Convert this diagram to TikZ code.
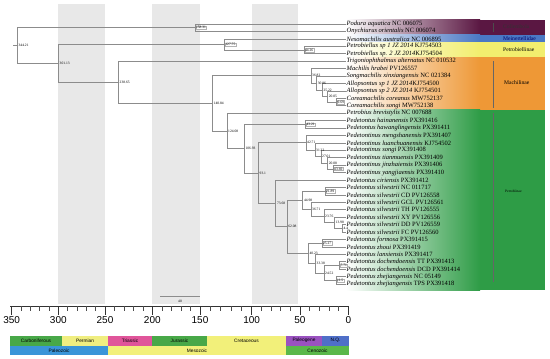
\documentclass[tikz,border=0pt]{standalone}
\usepackage{fontspec}
\setmainfont{Liberation Serif}
\setsansfont{Liberation Sans}
\definecolor{band}{HTML}{E8E8E8}
\definecolor{colC}{HTML}{5A1742}
\definecolor{colM}{HTML}{4A78C4}
\definecolor{colP}{HTML}{F2EE6E}
\definecolor{colMa}{HTML}{EE9836}
\definecolor{colPe}{HTML}{2E9C46}
\definecolor{gCarb}{HTML}{48A848}
\definecolor{gPerm}{HTML}{F0EE80}
\definecolor{gTri}{HTML}{E0559A}
\definecolor{gJur}{HTML}{48A848}
\definecolor{gCre}{HTML}{F2F07A}
\definecolor{gPal}{HTML}{9A52C0}
\definecolor{gNQ}{HTML}{4F6FC8}
\definecolor{gPz}{HTML}{3A95D8}
\definecolor{gMz}{HTML}{F2F07A}
\definecolor{gCz}{HTML}{5AB84A}
\definecolor{brc}{HTML}{8C8C8C}
\begin{document}
\begin{tikzpicture}[x=1pt,y=-1pt,
  br/.style={draw=brc,line width=0.7pt},
  nl/.style={font=\fontsize{3.6}{4}\selectfont,anchor=west,inner sep=0.4pt,xshift=0.6pt},
  nlb/.style={nl,draw=gray!60,line width=0.2pt,fill=white},
  tip/.style={font=\fontsize{6.5}{7}\selectfont,anchor=west,inner sep=0.5pt},
  grp/.style={font=\fontsize{5.6}{6}\selectfont,anchor=west,inner sep=0pt},
  geo/.style={font=\sffamily\fontsize{4.8}{5}\selectfont,inner sep=0pt},
  tl/.style={font=\sffamily\fontsize{10}{11}\selectfont,inner sep=0pt}]
\useasboundingbox (0,0) rectangle (550,359);
% gray bands
\fill[band] (58.3,4) rectangle (105,304);
\fill[band] (152.3,4) rectangle (200,304);
\fill[band] (251.7,4) rectangle (298,304);
% clade boxes
\shade[left color=white,right color=colC] (346,19.5) rectangle (480,34.5);
\fill[colC] (480,19.5) rectangle (545,34.5);
\shade[left color=white,right color=colM] (346,34.5) rectangle (480,42.2);
\fill[colM] (480,34.5) rectangle (545,42.2);
\shade[left color=white,right color=colP] (346,42.2) rectangle (480,57.3);
\fill[colP] (480,42.2) rectangle (545,57.3);
\shade[left color=white,right color=colMa] (346,57.3) rectangle (480,109.8);
\fill[colMa] (480,57.3) rectangle (545,109.8);
\shade[left color=white,right color=colPe] (346,109.8) rectangle (480,290);
\fill[colPe] (480,109.8) rectangle (545,290);
\draw[black!70,line width=0.4pt] (493,23) -- (493,32);
\draw[black!60,line width=0.4pt] (493,61) -- (493,108);
\draw[black!60,line width=0.4pt] (493,113) -- (493,282);
\node[grp,text=black!80] (gC) at (503,26.5) {Collembola};
\node[grp,text=blue!40!black] (gM) at (503,38.4) {Meinertellidae};
\node[grp] (gP) at (503,49.7) {Petrobiellinae};
\node[grp] (gMa) at (504,83) {Machilinae};
\node[grp,font=\fontsize{3.6}{4}\selectfont] (gPe) at (505,191) {Petrobiinae};
% tips
\foreach \i in {1,...,36} \coordinate (t\i) at (346,{24+(\i-1)*7.43});
\node[tip] (l1) at (t1) {\textit{Podura aquatica} NC 006075};
\node[tip] (l2) at (t2) {\textit{Onychiurus orientalis} NC 006074};
\node[tip] (l3) at (t3) {\textit{Nesomachilis australica} NC 006895};
\node[tip] (l4) at (t4) {\textit{Petrobiellus sp 1 JZ 2014} KJ754503};
\node[tip] (l5) at (t5) {\textit{Petrobiellus sp. 2 JZ 2014}KJ754504};
\node[tip] (l6) at (t6) {\textit{Trigoniophthalmus alternatus} NC 010532};
\node[tip] (l7) at (t7) {\textit{Machilis hrabei} PV126557};
\node[tip] (l8) at (t8) {\textit{Songmachilis xinxiangensis} NC 021384};
\node[tip] (l9) at (t9) {\textit{Allopsontus sp 1 JZ 2014}KJ754500};
\node[tip] (l10) at (t10) {\textit{Allopsontus sp 2 JZ 2014} KJ754501};
\node[tip] (l11) at (t11) {\textit{Coreamachilis coreanus} MW752137};
\node[tip] (l12) at (t12) {\textit{Coreamachilis songi} MW752138};
\node[tip] (l13) at (t13) {\textit{Petrobius brevistylis} NC 007688};
\node[tip] (l14) at (t14) {\textit{Pedetontus hainanensis} PX391416};
\node[tip] (l15) at (t15) {\textit{Pedetontus hawanglingensis} PX391411};
\node[tip] (l16) at (t16) {\textit{Pedetontinus mengshanensis} PX391407};
\node[tip] (l17) at (t17) {\textit{Pedetontinus luanchuanensis} KJ754502};
\node[tip] (l18) at (t18) {\textit{Pedetontinus songi} PX391408};
\node[tip] (l19) at (t19) {\textit{Pedetontinus tianmuensis} PX391409};
\node[tip] (l20) at (t20) {\textit{Pedetontinus jinzhaiensis} PX391406};
\node[tip] (l21) at (t21) {\textit{Pedetontinus yangjiaensis} PX391410};
\node[tip] (l22) at (t22) {\textit{Pedetontus ciriensis} PX391412};
\node[tip] (l23) at (t23) {\textit{Pedetontus silvestrii} NC 011717};
\node[tip] (l24) at (t24) {\textit{Pedetontus silvestrii} CD PV126558};
\node[tip] (l25) at (t25) {\textit{Pedetontus silvestrii} GCL PV126561};
\node[tip] (l26) at (t26) {\textit{Pedetontus silvestrii} TH PV126555};
\node[tip] (l27) at (t27) {\textit{Pedetontus silvestrii} XY PV126556};
\node[tip] (l28) at (t28) {\textit{Pedetontus silvestrii} DD PV126559};
\node[tip] (l29) at (t29) {\textit{Pedetontus silvestrii} FC PV126560};
\node[tip] (l30) at (t30) {\textit{Pedetontus formosa} PX391415};
\node[tip] (l31) at (t31) {\textit{Pedetontus zhoui} PX391419};
\node[tip] (l32) at (t32) {\textit{Pedetontus lanxiensis} PX391417};
\node[tip] (l33) at (t33) {\textit{Pedetontus dochendoensis} TT PX391413};
\node[tip] (l34) at (t34) {\textit{Pedetontus dochendoensis} DCD PX391414};
\node[tip] (l35) at (t35) {\textit{Pedetontus zhejiangensis} NC 05149};
\node[tip] (l36) at (t36) {\textit{Pedetontus zhejiangensis} TPS PX391418};
% internal nodes
\coordinate (r0) at (13,45.53);
\coordinate (R) at (17.5,45.53);
\coordinate (C1) at (195,27.72);
\coordinate (N301) at (58.5,63.34);
\coordinate (N127) at (224.3,44.43);
\coordinate (N44) at (304,50.01);
\coordinate (N238) at (118.5,82.25);
\coordinate (N140) at (212.5,103.35);
\coordinate (M1) at (311,75.78);
\coordinate (M2) at (316.7,82.98);
\coordinate (M3) at (322.3,89.94);
\coordinate (M4) at (327.7,96.44);
\coordinate (M5) at (336.5,102.02);
\coordinate (N124) at (227,130.92);
\coordinate (N106) at (244.3,148.67);
\coordinate (N43) at (305.5,124.31);
\coordinate (N93) at (258.5,173.04);
\coordinate (P1) at (306,142.65);
\coordinate (P2) at (315,149.85);
\coordinate (P3) at (321,156.81);
\coordinate (P4) at (327.7,163.31);
\coordinate (P5) at (333.3,168.89);
\coordinate (N73) at (275.8,203.42);
\coordinate (N62) at (287.2,226.82);
\coordinate (S0) at (302.8,200.23);
\coordinate (S1) at (325,191.18);
\coordinate (S2) at (311,209.29);
\coordinate (S3) at (324,216.25);
\coordinate (S4) at (334.5,222.75);
\coordinate (S5) at (342.5,228.33);
\coordinate (F0) at (308.3,253.40);
\coordinate (F1) at (322,243.19);
\coordinate (F2) at (315.5,263.62);
\coordinate (F3) at (324,272.91);
\coordinate (F4) at (339.5,265.48);
\coordinate (F5) at (336,280.34);
% branches
\draw[br] (r0) -- (R);
\foreach \p/\c in {R/C1,R/N301,C1/t1,C1/t2,N301/N127,N301/N238,N127/t3,N127/N44,N44/t4,N44/t5,
  N238/t6,N238/N140,N140/M1,N140/N124,M1/t7,M1/M2,M2/t8,M2/M3,M3/t9,M3/M4,M4/t10,M4/M5,M5/t11,M5/t12,
  N124/t13,N124/N106,N106/N43,N106/N93,N43/t14,N43/t15,N93/P1,N93/N73,
  P1/t16,P1/P2,P2/t17,P2/P3,P3/t18,P3/P4,P4/t19,P4/P5,P5/t20,P5/t21,
  N73/t22,N73/N62,N62/S0,N62/F0,S0/S1,S0/S2,S1/t23,S1/t24,S2/t25,S2/S3,S3/t26,S3/S4,S4/t27,S4/S5,S5/t28,S5/t29,
  F0/F1,F0/F2,F1/t30,F1/t31,F2/t32,F2/F3,F3/F4,F3/F5,F4/t33,F4/t34,F5/t35,F5/t36}
  \draw[br] (\p) |- (\c);
% node labels
\node[nl] (nR) at (R) {344.21};
\node[nlb] (nC1) at (C1) {158.31};
\node[nl] (n301) at (N301) {301.13};
\node[nlb] (n127) at (N127) {127.75};
\node[nlb] (n44) at (N44) {44.26};
\node[nl] (n238) at (N238) {238.65};
\node[nl] (n140) at (N140) {140.84};
\node[nl] (nM1) at (M1) {36.82};
\node[nl] (nM2) at (M2) {30.86};
\node[nl] (nM3) at (M3) {25.22};
\node[nl] (nM4) at (M4) {20.05};
\node[nlb] (nM5) at (M5) {9.69};
\node[nl] (n124) at (N124) {124.08};
\node[nl] (n106) at (N106) {106.93};
\node[nlb] (n43) at (N43) {43.21};
\node[nl] (n93) at (N93) {93.1};
\node[nl] (nP1) at (P1) {42.71};
\node[nl] (nP2) at (P2) {31.22};
\node[nl] (nP3) at (P3) {27.01};
\node[nl] (nP4) at (P4) {20.08};
\node[nlb] (nP5) at (P5) {13.69};
\node[nl] (n73) at (N73) {73.68};
\node[nl] (n62) at (N62) {62.08};
\node[nl] (nS0) at (S0) {44.98};
\node[nlb] (nS1) at (S1) {21.89};
\node[nl] (nS2) at (S2) {36.71};
\node[nl] (nS3) at (S3) {23.76};
\node[nl] (nS4) at (S4) {13.98};
\node[nl] (nS5) at (S5) {4.4};
\node[nl] (nF0) at (F0) {40.23};
\node[nlb] (nF1) at (F1) {25.27};
\node[nl] (nF2) at (F2) {33.38};
\node[nl] (nF3) at (F3) {24.52};
\node[nlb] (nF4) at (F4) {7.71};
\node[nlb] (nF5) at (F5) {11.5};
% scale bar
\coordinate (sb1) at (160,296.7);
\coordinate (sb2) at (200,296.7);
\draw[brc,line width=0.5pt] (sb1) -- (sb2);
\node[font=\fontsize{3.6}{4}\selectfont,inner sep=0pt] (sbl) at (180,301) {40};
% axis
\draw[black!80,line width=0.6pt] (10,306) -- (349,306);
\foreach \a/\b in {11.7/58.3,58.3/105,105/152.3,152.3/200,200/251.7,251.7/300,300/348.3}
  \foreach \k in {1,...,4} \draw[black!70,line width=0.5pt] ({\a+\k*(\b-\a)/5},306) -- ++(0,5);
\foreach \x/\t in {11.7/350,58.3/300,105/250,152.3/200,200/150,251.7/100,300/50,348.3/0}{
  \draw[black!80,line width=0.7pt] (\x,306) -- ++(0,8.5);
  \node[tl] (tk\t) at (\x,320) {\t};}
% geological time scale
\fill[gCarb] (10,336) rectangle (62,345.5);
\fill[gPerm] (62,336) rectangle (108,345.5);
\fill[gTri] (108,336) rectangle (152,345.5);
\fill[gJur] (152,336) rectangle (207,345.5);
\fill[gCre] (207,336) rectangle (286,345.5);
\fill[gPal] (286,336) rectangle (322,345.5);
\fill[gNQ] (322,336) rectangle (349,345.5);
\fill[gPz] (10,345.5) rectangle (108,355);
\fill[gMz] (108,345.5) rectangle (286,355);
\fill[gCz] (286,345.5) rectangle (349,355);
\node[geo] (e1) at (36,340.7) {Carboniferous};
\node[geo] (e2) at (85,340.7) {Permian};
\node[geo] (e3) at (130,340.7) {Triassic};
\node[geo] (e4) at (179.5,340.7) {Jurassic};
\node[geo] (e5) at (246.5,340.7) {Cretaceous};
\node[geo] (e6) at (304,340.7) {Paleogene};
\node[geo] (e7) at (335.5,340.7) {N.Q.};
\node[geo] (e8) at (59,350.3) {Paleozoic};
\node[geo] (e9) at (197,350.3) {Mesozoic};
\node[geo] (e10) at (317.5,350.3) {Cenozoic};
\end{tikzpicture}
\end{document}
